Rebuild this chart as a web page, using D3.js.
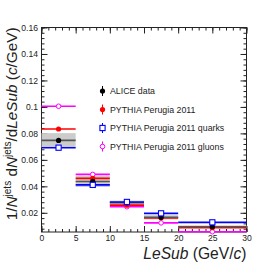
<!DOCTYPE html>
<html>
<head>
<meta charset="utf-8">
<script src="https://cdn.jsdelivr.net/npm/d3@7"></script>
<style>
    body { margin: 0; background: #fff; }
    #chart { width: 274px; height: 274px; }
    text { font-family: 'Liberation Sans', Arial, sans-serif; }
</style>
</head>
<body>
<div id="chart"></div>
<script>
//Bins (LeSub, GeV/c)
const binLow = [0, 5, 10, 15, 20],
binHigh = [5, 10, 15, 20, 30];

//Valores por serie
const aliceData = [0.0747, 0.0437, 0.0276, 0.0166, 0.0095],
aliceStat = [0.0012, 0.0008, 0.0006, 0.0006, 0.0005],
aliceSys = [0.0055, 0.0042, 0.0016, 0.0016, 0.0010],
pythia = [0.0833, 0.0460, 0.0258, 0.0162, 0.0088],
pythiaQuarks = [0.0692, 0.0411, 0.0282, 0.0196, 0.0128],
pythiaGluons = [0.1005, 0.0490, 0.0246, 0.0124, 0.0057];

//Ejes
const xTicks = [0, 5, 10, 15, 20, 25, 30],
yTicks = [0.02, 0.04, 0.06, 0.08, 0.1, 0.12, 0.14, 0.16];

//Leyenda
const legendLabels = ['ALICE data', 'PYTHIA Perugia 2011', 'PYTHIA Perugia 2011 quarks', 'PYTHIA Perugia 2011 gluons'];

const COLOR_DATA = '#000000',
COLOR_PYTHIA = '#ff0000',
COLOR_QUARKS = '#0000ff',
COLOR_GLUONS = '#ff00ff',
COLOR_SYS = '#cccccc';

let margin = {top: 27.5, right: 27.5, bottom: 42, left: 41.5},
    width = 274 - margin.left - margin.right,
    height = 274 - margin.top - margin.bottom;

let svg = d3.select('#chart')
    .append('svg')
        .attr('width', 274)
        .attr('height', 274)
    .append('g')
        .attr('transform', 'translate(' + margin.left + ',' + margin.top + ')');

let x = d3.scaleLinear()
    .domain([0, 30])
    .range([0, width]);

let y = d3.scaleLinear()
    .domain([0.0055, 0.16])
    .range([height, 0]);

let series = [
    {key: 'gluons', values: pythiaGluons, color: COLOR_GLUONS, marker: 'opencircle'},
    {key: 'pythia', values: pythia, color: COLOR_PYTHIA, marker: 'circle'},
    {key: 'data', values: aliceData, color: COLOR_DATA, marker: 'circle'},
    {key: 'quarks', values: pythiaQuarks, color: COLOR_QUARKS, marker: 'opensquare'}
];

function drawMarker(g, type, color, cx, cy) {
    if (type == 'circle') {
        g.append('circle').attr('cx', cx).attr('cy', cy).attr('r', 2.6).attr('fill', color);
    } else if (type == 'opencircle') {
        g.append('circle').attr('cx', cx).attr('cy', cy).attr('r', 2.3)
            .attr('fill', '#fff').attr('stroke', color).attr('stroke-width', 1);
    } else {
        g.append('rect').attr('x', cx - 2.6).attr('y', cy - 2.6).attr('width', 5.2).attr('height', 5.2)
            .attr('fill', '#fff').attr('stroke', color).attr('stroke-width', 1.1);
    }
}

function axes() {
    let minorX = d3.range(0, 31);
    let minorY = d3.range(2, 41).map(function(i) { return +(i * 0.004).toFixed(3); });

    let styleAxis = function(g) {
        g.select('.domain').remove();
        g.selectAll('.tick line').attr('stroke', '#222').attr('stroke-width', 1);
        g.selectAll('.tick text').attr('fill', '#222').style('font-size', '8.6px');
    };

    //Abajo
    svg.append('g').attr('transform', 'translate(0,' + height + ')')
        .call(d3.axisBottom(x).tickValues(minorX).tickSize(-3).tickFormat(''))
        .call(styleAxis);
    svg.append('g').attr('transform', 'translate(0,' + height + ')')
        .call(d3.axisBottom(x).tickValues(xTicks).tickSize(-6).tickPadding(3).tickFormat(d3.format('d')))
        .call(styleAxis)
        .call(function(g) { g.selectAll('.tick text').attr('y', 3); });

    //Arriba
    svg.append('g')
        .call(d3.axisTop(x).tickValues(minorX).tickSize(-3).tickFormat(''))
        .call(styleAxis);
    svg.append('g')
        .call(d3.axisTop(x).tickValues(xTicks).tickSize(-6).tickFormat(''))
        .call(styleAxis);

    //Izquierda
    svg.append('g')
        .call(d3.axisLeft(y).tickValues(minorY).tickSize(-3).tickFormat(''))
        .call(styleAxis);
    svg.append('g')
        .call(d3.axisLeft(y).tickValues(yTicks).tickSize(-6).tickFormat(d3.format('~g')))
        .call(styleAxis)
        .call(function(g) { g.selectAll('.tick text').attr('x', -3.5); });

    //Derecha
    svg.append('g').attr('transform', 'translate(' + width + ',0)')
        .call(d3.axisRight(y).tickValues(minorY).tickSize(-3).tickFormat(''))
        .call(styleAxis);
    svg.append('g').attr('transform', 'translate(' + width + ',0)')
        .call(d3.axisRight(y).tickValues(yTicks).tickSize(-6).tickFormat(''))
        .call(styleAxis);

    svg.append('rect')
        .attr('width', width).attr('height', height)
        .attr('fill', 'none').attr('stroke', '#222').attr('stroke-width', 1);
}

function init() {
    let plot = svg.append('g');

    //Sistemáticos
    plot.selectAll('.sys')
        .data(aliceData)
        .enter()
        .append('rect')
        .attr('x', function(d, i) { return x(binLow[i]); })
        .attr('width', function(d, i) { return x(binHigh[i]) - x(binLow[i]); })
        .attr('y', function(d, i) { return y(d + aliceSys[i]); })
        .attr('height', function(d, i) { return y(d - aliceSys[i]) - y(d + aliceSys[i]); })
        .attr('fill', COLOR_SYS);

    series.forEach(function(s) {
        let lineColor = s.key == 'data' ? '#555' : s.color;
        plot.selectAll('.h-' + s.key)
            .data(s.values)
            .enter()
            .append('line')
            .attr('x1', function(d, i) { return x(binLow[i]); })
            .attr('x2', function(d, i) { return x(binHigh[i]); })
            .attr('y1', function(d) { return y(Math.max(d, 0.0057)); })
            .attr('y2', function(d) { return y(Math.max(d, 0.0057)); })
            .attr('stroke', lineColor)
            .attr('stroke-width', 1.6);
    });

    //Error estadístico
    plot.selectAll('.stat')
        .data(aliceData)
        .enter()
        .append('line')
        .attr('x1', function(d, i) { return x((binLow[i] + binHigh[i]) / 2); })
        .attr('x2', function(d, i) { return x((binLow[i] + binHigh[i]) / 2); })
        .attr('y1', function(d, i) { return y(d + aliceStat[i]); })
        .attr('y2', function(d, i) { return y(d - aliceStat[i]); })
        .attr('stroke', COLOR_DATA)
        .attr('stroke-width', 1);

    series.forEach(function(s) {
        s.values.forEach(function(d, i) {
            drawMarker(plot, s.marker, s.color, x((binLow[i] + binHigh[i]) / 2), y(Math.max(d, 0.0057)));
        });
    });

    //Leyenda
    let legendMarkers = ['circle', 'circle', 'opensquare', 'opencircle'],
        legendColors = [COLOR_DATA, COLOR_PYTHIA, COLOR_QUARKS, COLOR_GLUONS];
    let legend = svg.append('g').attr('transform', 'translate(' + (102.5 - margin.left) + ',' + (91 - margin.top) + ')');
    legendLabels.forEach(function(label, i) {
        let row = legend.append('g').attr('transform', 'translate(0,' + (i * 18.5) + ')');
        row.append('line').attr('x1', 0).attr('x2', 0).attr('y1', -5).attr('y2', 5)
            .attr('stroke', legendColors[i]).attr('stroke-width', 1);
        drawMarker(row, legendMarkers[i], legendColors[i], 0, 0);
        row.append('text')
            .attr('x', 7.5).attr('y', 3.2)
            .attr('fill', '#222')
            .style('font-size', '8.8px')
            .text(label);
    });
}

axes();
init();

//Títulos
let xTitle = svg.append('text')
    .attr('x', width)
    .attr('y', 259 - margin.top)
    .attr('text-anchor', 'end')
    .attr('fill', '#222')
    .style('font-size', '15.6px');
xTitle.append('tspan').style('font-style', 'italic').text('LeSub');
xTitle.append('tspan').text(' (GeV/');
xTitle.append('tspan').style('font-style', 'italic').text('c');
xTitle.append('tspan').text(')');

let yTitle = svg.append('text')
    .attr('transform', 'translate(' + (17 - margin.left) + ',0) rotate(-90)')
    .attr('text-anchor', 'end')
    .attr('fill', '#222')
    .style('font-size', '15.3px');
yTitle.append('tspan').text('1/');
yTitle.append('tspan').style('font-style', 'italic').text('N');
yTitle.append('tspan').attr('dy', -6).style('font-size', '10px').text('jets');
yTitle.append('tspan').attr('dy', 6).text(' d');
yTitle.append('tspan').style('font-style', 'italic').text('N');
yTitle.append('tspan').attr('dy', -6).style('font-size', '10px').text('jets');
yTitle.append('tspan').attr('dy', 6).text('/d');
yTitle.append('tspan').style('font-style', 'italic').text('LeSub');
yTitle.append('tspan').text(' (');
yTitle.append('tspan').style('font-style', 'italic').text('c');
yTitle.append('tspan').text('/GeV)');
</script>
</body>
</html>
